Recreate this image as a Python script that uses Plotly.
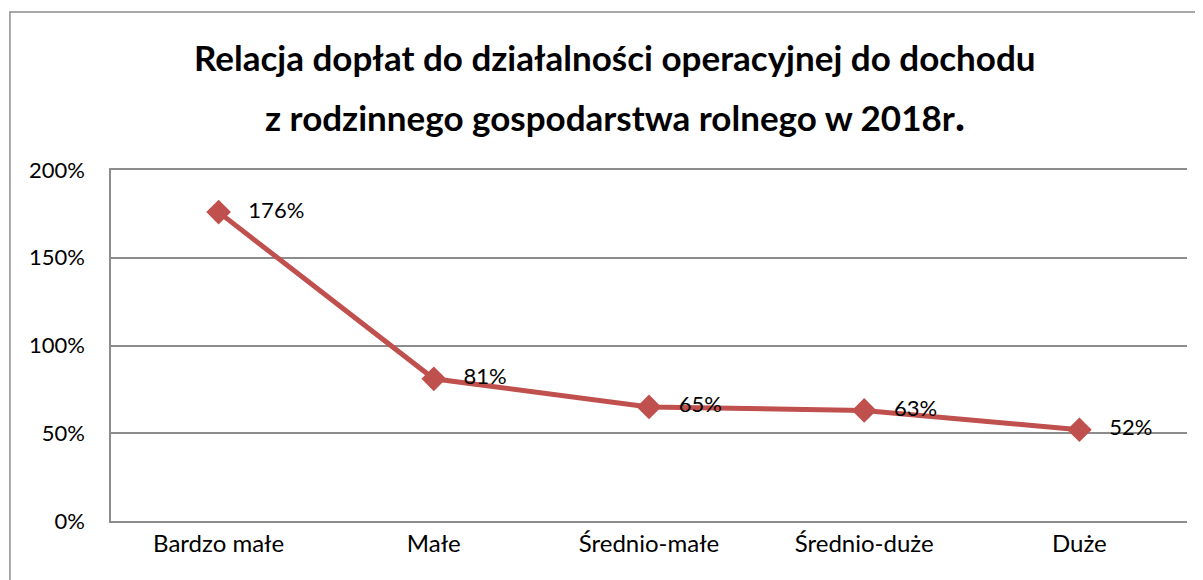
import plotly.graph_objects as go

categories = ["Bardzo małe", "Małe", "Średnio-małe", "Średnio-duże", "Duże"]
values = [1.76, 0.81, 0.65, 0.63, 0.52]
labels = ["176%", "81%", "65%", "63%", "52%"]
y_ticks = [0, 0.5, 1.0, 1.5, 2.0]
y_tick_text = ["0%", "50%", "100%", "150%", "200%"]
title_lines = ["Relacja dopłat do działalności operacyjnej do dochodu",
               "z rodzinnego gospodarstwa rolnego w 2018r<span style='font-size:44px'>.</span>"]

FONT = "Lato, 'Open Sans', sans-serif"
GRID = "#8C8C8C"

fig = go.Figure()
fig.add_trace(go.Scatter(
    x=categories, y=values,
    mode="lines+markers+text",
    text=["   " + t for t in labels],
    textposition="middle right",
    textfont=dict(size=22, color="#000000", family=FONT),
    line=dict(color="#C0504D", width=5),
    marker=dict(symbol="diamond", size=19, color="#C0504D"),
    cliponaxis=False,
    showlegend=False,
))

annotations = []
for line, yp in zip(title_lines, [1.322, 1.160]):
    annotations.append(dict(
        text=line, xref="paper", yref="paper", x=0.468, y=yp,
        xanchor="center", yanchor="middle", showarrow=False,
        font=dict(size=35, color="#000000", family=FONT, weight="bold"),
    ))

fig.update_layout(
    width=1203, height=580,
    margin=dict(l=103, r=24, t=162, b=67),
    paper_bgcolor="white", plot_bgcolor="white",
    annotations=annotations,
    xaxis=dict(
        type="category", range=[-0.5, 4.5],
        showgrid=False, showline=True, mirror=True, linecolor=GRID, linewidth=1.5,
        zeroline=False, ticks="",
        tickfont=dict(size=24, color="#000000", family=FONT),
    ),
    yaxis=dict(
        range=[0, 2.0], tickvals=y_ticks, ticktext=y_tick_text,
        showgrid=True, gridcolor=GRID, gridwidth=1.5,
        showline=True, linecolor=GRID, linewidth=1.5,
        zeroline=False, ticks="",
        ticklabelstandoff=20,
        tickfont=dict(size=22, color="#000000", family=FONT),
    ),
    shapes=[dict(
        type="rect", xref="paper", yref="paper",
        x0=-0.0939, x1=1.2, y0=-0.3, y1=1.450,
        line=dict(color=GRID, width=1.5), fillcolor="rgba(0,0,0,0)",
        layer="below",
    )],
)

fig.write_html("out.html")
